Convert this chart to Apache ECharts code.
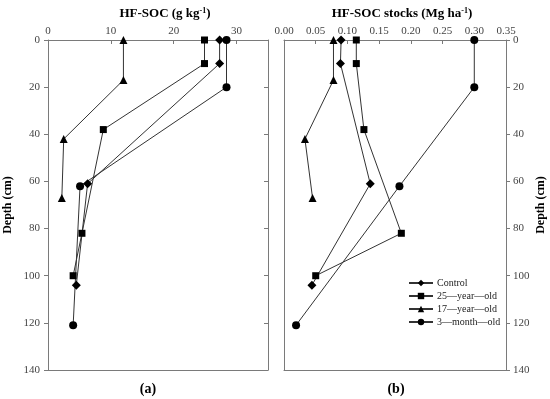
<!DOCTYPE html>
<html><head><meta charset="utf-8">
<script src="https://cdn.jsdelivr.net/npm/echarts@6/dist/echarts.min.js"></script>
<style>html,body{margin:0;padding:0;background:#fff}#c{width:550px;height:399px}</style>
</head><body><div id="c"></div>
<script>
// Series names
const seriesNames = ['Control', '25\u2014year\u2014old', '17\u2014year\u2014old', '3\u2014month\u2014old'];
const symbols = ['diamond', 'rect', 'triangle', 'circle'];
// Depths (cm) per series
const depthControl = [0, 10, 61, 104];
const depth25 = [0, 10, 38, 82, 100];
const depth17 = [0, 17, 42, 67];
const depth3m = [0, 20, 62, 121];
// (a) HF-SOC (g kg-1)
const socControl = [27.3, 27.3, 6.3, 4.5];
const soc25 = [24.9, 24.9, 8.8, 5.4, 4.0];
const soc17 = [12.0, 12.0, 2.5, 2.2];
const soc3m = [28.4, 28.4, 5.1, 4.0];
// (b) HF-SOC stocks (Mg ha-1)
const stkControl = [0.090, 0.089, 0.136, 0.044];
const stk25 = [0.114, 0.114, 0.126, 0.185, 0.050];
const stk17 = [0.078, 0.078, 0.033, 0.045];
const stk3m = [0.300, 0.300, 0.182, 0.019];
// Axis ticks
const depthTicks = {min: 0, max: 140, interval: 20};
const socTicks = {min: 0, max: 35, interval: 10};
const stkTicks = {min: 0, max: 0.35, interval: 0.05};

const depths = [depthControl, depth25, depth17, depth3m];
const socs = [socControl, soc25, soc17, soc3m];
const stks = [stkControl, stk25, stk17, stk3m];

const FONT = 'Liberation Serif';
const axisCol = '#7a7a7a';
const labCol = '#444';

function pairs(xs, ys) { return xs.map((x, i) => [x, ys[i]]); }
function symSize(s) { return s === 'rect' ? 7 : (s === 'diamond' ? 9 : 8); }

const series = [];
for (let k = 0; k < 4; k++) {
  series.push({
    name: seriesNames[k], type: 'line', xAxisIndex: 0, yAxisIndex: 0,
    data: pairs(socs[k], depths[k]), symbol: symbols[k], symbolSize: symSize(symbols[k]),
    lineStyle: {color: '#333', width: 1}, itemStyle: {color: '#000'},
    showAllSymbol: true, animation: false
  });
}
for (let k = 0; k < 4; k++) {
  series.push({
    name: seriesNames[k], type: 'line', xAxisIndex: 1, yAxisIndex: 2,
    data: pairs(stks[k], depths[k]), symbol: symbols[k], symbolSize: symSize(symbols[k]),
    lineStyle: {color: '#333', width: 1}, itemStyle: {color: '#000'},
    showAllSymbol: true, animation: false
  });
}

const ax = {lineStyle: {color: axisCol, width: 1}};
const chart = echarts.init(document.getElementById('c'), null, {renderer: 'canvas'});
chart.setOption({
  backgroundColor: '#fff',
  animation: false,
  textStyle: {fontFamily: FONT},
  title: [
    {text: '{b|HF-SOC (g kg}{s|-1}{b|)}', left: 160, top: 2, textAlign: 'center',
     textStyle: {rich: {b: {fontFamily: FONT, fontWeight: 'bold', fontSize: 13, color: '#000'},
                        s: {fontFamily: FONT, fontWeight: 'bold', fontSize: 8, color: '#000', verticalAlign: 'top', padding: [0, 0, 6, 0]}}}},
    {text: '{b|HF-SOC stocks (Mg ha}{s|-1}{b|)}', left: 397, top: 2, textAlign: 'center',
     textStyle: {rich: {b: {fontFamily: FONT, fontWeight: 'bold', fontSize: 13, color: '#000'},
                        s: {fontFamily: FONT, fontWeight: 'bold', fontSize: 8, color: '#000', verticalAlign: 'top', padding: [0, 0, 6, 0]}}}},
    {text: '(a)', left: 143, top: 377, textAlign: 'center', textStyle: {fontFamily: FONT, fontWeight: 'bold', fontSize: 14, color: '#000'}},
    {text: '(b)', left: 391, top: 377, textAlign: 'center', textStyle: {fontFamily: FONT, fontWeight: 'bold', fontSize: 14, color: '#000'}}
  ],
  legend: {
    orient: 'vertical', left: 403, top: 273, itemGap: 3, itemWidth: 24, itemHeight: 8,
    textStyle: {fontFamily: FONT, fontSize: 10, color: '#222', padding: [0, 0, 0, -1]},
    data: seriesNames
  },
  grid: [
    {left: 48, top: 40, width: 220, height: 330, show: false},
    {left: 284, top: 40, width: 222, height: 330, show: false}
  ],
  xAxis: [
    {type: 'value', gridIndex: 0, position: 'top', min: socTicks.min, max: socTicks.max, interval: socTicks.interval,
     axisLine: Object.assign({show: true, onZero: false}, ax), splitLine: {show: false},
     axisTick: {show: true, inside: true, length: 4, lineStyle: {color: axisCol}},
     axisLabel: {fontFamily: FONT, fontSize: 11, color: labCol, margin: 3,
                 formatter: v => (v === 35 ? '' : String(v))}},
    {type: 'value', gridIndex: 1, position: 'top', min: stkTicks.min, max: stkTicks.max, interval: stkTicks.interval,
     axisLine: Object.assign({show: true, onZero: false}, ax), splitLine: {show: false},
     axisTick: {show: true, inside: true, length: 4, lineStyle: {color: axisCol}},
     axisLabel: {fontFamily: FONT, fontSize: 11, color: labCol, margin: 3, showMaxLabel: true,
                 formatter: v => v.toFixed(2)}},
    {type: 'value', gridIndex: 0, position: 'bottom', min: 0, max: 35,
     axisLine: Object.assign({show: true, onZero: false}, ax), axisTick: {show: false}, axisLabel: {show: false}, splitLine: {show: false}},
    {type: 'value', gridIndex: 1, position: 'bottom', min: 0, max: 0.35,
     axisLine: Object.assign({show: true, onZero: false}, ax), axisTick: {show: false}, axisLabel: {show: false}, splitLine: {show: false}}
  ],
  yAxis: [
    {type: 'value', gridIndex: 0, position: 'left', inverse: true, min: depthTicks.min, max: depthTicks.max, interval: depthTicks.interval,
     name: 'Depth (cm)', nameLocation: 'middle', nameGap: 34, nameRotate: 90,
     nameTextStyle: {fontFamily: FONT, fontWeight: 'bold', fontSize: 12, color: '#000'},
     axisLine: Object.assign({show: true, onZero: false}, ax), splitLine: {show: false},
     axisTick: {show: true, inside: false, length: 4, lineStyle: {color: axisCol}},
     axisLabel: {fontFamily: FONT, fontSize: 11, color: labCol, margin: 8}},
    {type: 'value', gridIndex: 0, position: 'right', inverse: true, min: depthTicks.min, max: depthTicks.max, interval: depthTicks.interval,
     axisLine: Object.assign({show: true, onZero: false}, ax), splitLine: {show: false},
     axisTick: {show: true, inside: true, length: 4, lineStyle: {color: axisCol}},
     axisLabel: {show: false}},
    {type: 'value', gridIndex: 1, position: 'right', inverse: true, min: depthTicks.min, max: depthTicks.max, interval: depthTicks.interval,
     name: 'Depth (cm)', nameLocation: 'middle', nameGap: 29, nameRotate: 90,
     nameTextStyle: {fontFamily: FONT, fontWeight: 'bold', fontSize: 12, color: '#000'},
     axisLine: Object.assign({show: true, onZero: false}, ax), splitLine: {show: false},
     axisTick: {show: true, inside: false, length: 4, lineStyle: {color: axisCol}},
     axisLabel: {fontFamily: FONT, fontSize: 11, color: labCol, margin: 7}},
    {type: 'value', gridIndex: 1, position: 'left', inverse: true, min: depthTicks.min, max: depthTicks.max, interval: depthTicks.interval,
     axisLine: Object.assign({show: true, onZero: false}, ax), splitLine: {show: false},
     axisTick: {show: false}, axisLabel: {show: false}}
  ],
  series: series
});
</script></body></html>
